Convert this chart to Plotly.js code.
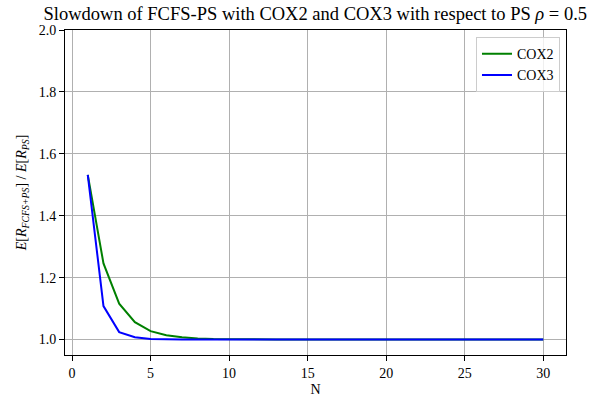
<!DOCTYPE html>
<html>
<head>
<meta charset="utf-8">
<script src="https://cdn.plot.ly/plotly-3.0.1.min.js"></script>
<style>html,body{margin:0;padding:0;background:#fff;}#chart{width:611px;height:404px;}</style>
</head>
<body>
<div id="chart"></div>
<script>
var N = [1,2,3,4,5,6,7,8,9,10,11,12,13,14,15,16,17,18,19,20,21,22,23,24,25,26,27,28,29,30];
var cox2 = [1.532,1.246,1.116,1.056,1.027,1.014,1.007,1.003,1.0015,1.0007,1.0003,1.0002,1.0001,1,1,1,1,1,1,1,1,1,1,1,1,1,1,1,1,1];
var cox3 = [1.532,1.108,1.024,1.0075,1.002,1.0005,1.0002,1.0001,1,1,1,1,1,1,1,1,1,1,1,1,1,1,1,1,1,1,1,1,1,1];
var seriesNames = ['COX2','COX3'];
var xTicks = [0,5,10,15,20,25,30];
var yTicks = [1.0,1.2,1.4,1.6,1.8,2.0];

var font = '"Liberation Serif", serif';
var traces = [
  {x:N, y:cox2, name:seriesNames[0], mode:'lines', line:{color:'#008000', width:2}},
  {x:N, y:cox3, name:seriesNames[1], mode:'lines', line:{color:'#0000ff', width:2}}
];
var axisCommon = {
  showline:true, linecolor:'#000', linewidth:1, mirror:true,
  ticks:'outside', ticklen:5, tickwidth:1, tickcolor:'#000',
  showgrid:true, gridcolor:'#b0b0b0', gridwidth:1, zeroline:false,
  tickfont:{family:font, size:14, color:'#000'}
};
var layout = {
  width:611, height:404,
  margin:{l:65, r:45, t:30, b:49},
  paper_bgcolor:'#fff', plot_bgcolor:'#fff',
  font:{family:font, color:'#000'},
  title:{text:'Slowdown of FCFS-PS with COX2 and COX3 with respect to PS <i>ρ</i> = 0.5',
         font:{family:font, size:18.5, color:'#000'}, x:0.516, xanchor:'center', y:0.983, yanchor:'top'},
  xaxis:Object.assign({}, axisCommon, {range:[-0.45,31.45], tickvals:xTicks, ticktext:xTicks.map(String),
         title:{text:'N', font:{family:font, size:14}, standoff:4}}),
  yaxis:Object.assign({}, axisCommon, {range:[0.95,2.0], tickvals:yTicks, ticktext:yTicks.map(function(v){return v.toFixed(1);}),
         title:{text:'<i>E</i>[<i>R</i><sub><i>FCFS+PS</i></sub>] / <i>E</i>[<i>R</i><sub><i>PS</i></sub>]', font:{family:font, size:14}, standoff:8}}),
  showlegend:true,
  legend:{x:0.988, xanchor:'right', y:0.978, yanchor:'top', bgcolor:'rgba(255,255,255,0.8)',
          bordercolor:'#cccccc', borderwidth:1, font:{family:font, size:14, color:'#000'}, tracegroupgap:0}
};
Plotly.newPlot('chart', traces, layout, {displayModeBar:false, staticPlot:true});
</script>
</body>
</html>
